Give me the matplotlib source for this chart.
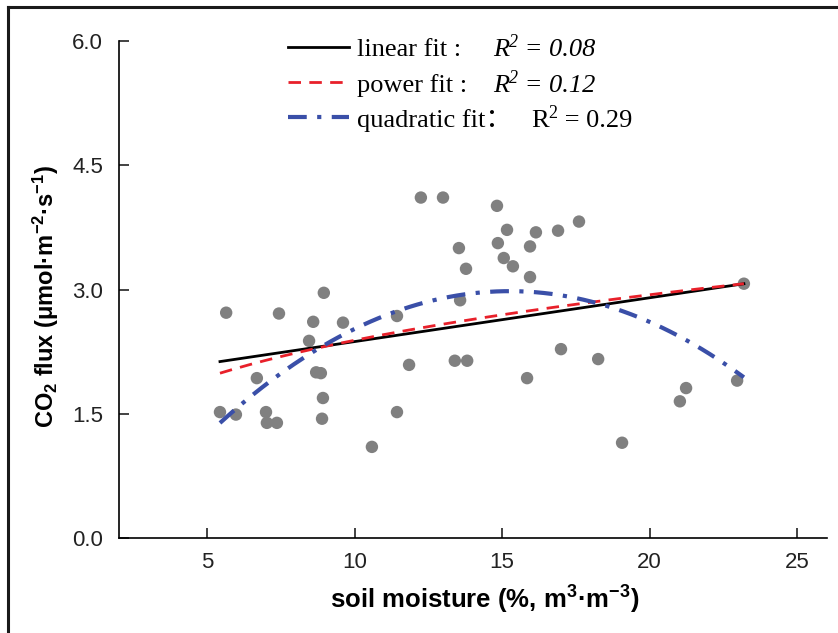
import numpy as np
import matplotlib
matplotlib.use("Agg")
import matplotlib.pyplot as plt
from matplotlib.font_manager import FontProperties
from matplotlib.lines import Line2D

# soil moisture (%) and CO2 flux
soil_moisture = [5.44, 5.65, 5.98, 6.69, 7.00, 7.03, 7.37, 7.44, 8.46, 8.60,
                 8.96, 9.61, 8.70, 8.86, 8.93, 8.90, 10.59, 11.44, 11.44, 11.85,
                 12.25, 13.00, 14.83, 13.54, 13.78, 15.17, 14.86, 15.06, 15.37, 16.15,
                 15.95, 15.95, 16.90, 17.61, 13.58, 13.40, 13.82, 15.85, 17.00, 18.26,
                 19.07, 23.20, 22.97, 21.24, 21.03]
co2_flux = [1.52, 2.72, 1.49, 1.93, 1.52, 1.39, 1.39, 2.71, 2.38, 2.61,
            2.96, 2.60, 2.00, 1.99, 1.69, 1.44, 1.10, 1.52, 2.68, 2.09,
            4.11, 4.11, 4.01, 3.50, 3.25, 3.72, 3.56, 3.38, 3.28, 3.69,
            3.52, 3.15, 3.71, 3.82, 2.87, 2.14, 2.14, 1.93, 2.28, 2.16,
            1.15, 3.07, 1.90, 1.81, 1.65]

# fitted models (coefficients estimated from the drawn curves)
lin_coef = (0.0529, 1.842)          # y = a*x + b
pow_coef = (1.199, 0.299)           # y = a*x^b
quad_coef = (-0.0165, 15.26, 2.98)  # y = a*(x-h)^2 + k

fit_names = ["linear fit :", "power fit :", "quadratic fit："]
r2_values = ["0.08", "0.12", "0.29"]
r2_italic = [True, True, False]

plt.rcParams["font.family"] = ["Liberation Sans", "DejaVu Sans"]
plt.rcParams["mathtext.fontset"] = "custom"
plt.rcParams["mathtext.rm"] = "Liberation Sans:bold"
plt.rcParams["mathtext.bf"] = "Liberation Sans:bold"
plt.rcParams["mathtext.it"] = "Liberation Sans:bold"

fig = plt.figure(figsize=(8.38, 6.33), dpi=100)
ax = fig.add_axes([118.5 / 838, 1 - 538 / 633, 708 / 838, 497 / 633])

x = np.array(soil_moisture)
y = np.array(co2_flux)
ax.scatter(x, y, s=80, color="#808080", edgecolors="none", zorder=2)

xx = np.linspace(x.min(), x.max(), 200)
ax.plot(xx, lin_coef[0] * xx + lin_coef[1], color="black", lw=2, zorder=3)
ax.plot(xx, pow_coef[0] * xx ** pow_coef[1], color="#e8202a", lw=2,
        linestyle=(0, (4.5, 3)), zorder=4)
ax.plot(xx, quad_coef[0] * (xx - quad_coef[1]) ** 2 + quad_coef[2], color="#3a4fa8",
        lw=3, linestyle=(0, (4.5, 2.5, 1, 2.5)), zorder=5)

ax.set_xlim(2, 26)
ax.set_ylim(0, 6)
ax.set_xticks([5, 10, 15, 20, 25])
ax.set_yticks([0, 1.5, 3.0, 4.5, 6.0])
ax.set_yticklabels(["0.0", "1.5", "3.0", "4.5", "6.0"])
for s in ["top", "right"]:
    ax.spines[s].set_visible(False)
for s in ["left", "bottom"]:
    ax.spines[s].set_linewidth(1.2)
ax.tick_params(axis="x", direction="in", length=7, width=1.2, pad=10, labelsize=16, colors="#222222")
ax.tick_params(axis="y", direction="in", length=7, width=1.2, pad=11, labelsize=16, colors="#222222")

fig.text(46 / 838, 1 - 296 / 633, r"CO$_2$ flux (μmol·m$^{-2}$·s$^{-1}$)", rotation=90,
         ha="center", va="center", fontsize=17, fontweight="bold")
fig.text(485 / 838, 1 - 600 / 633, r"soil moisture (%, m$^{3}$·m$^{-3}$)",
         ha="center", va="center", fontsize=18.5, fontweight="bold")

leg_font = FontProperties(family=["Liberation Serif", "Noto Sans CJK SC"], size=19)
handles = ax.get_lines()
leg = ax.legend(handles, fit_names, prop=leg_font, frameon=False, loc="upper left",
                bbox_to_anchor=(288 / 838, 1 - 38 / 633), bbox_transform=fig.transFigure,
                borderpad=0, borderaxespad=0, handlelength=2.3, handletextpad=0.3,
                labelspacing=0.44)

# R^2 annotations on the same baseline as each legend entry
fig.canvas.draw()
renderer = fig.canvas.get_renderer()
r2_x = [493, 493, 531]
for t, val, it, px in zip(leg.get_texts(), r2_values, r2_italic, r2_x):
    bx, by = t.get_transform().transform(t.get_position())
    style = "italic" if it else "normal"
    pieces = [("R", 19, 0), ("2", 13, 9), (" = " + val, 19, 0)]
    cx = px
    for s, size, rise in pieces:
        tt = fig.text(cx / 838, (by + rise) / fig.bbox.height, s, ha="left",
                      va=t.get_verticalalignment(), fontsize=size,
                      family="Liberation Serif", style=style)
        cx += tt.get_window_extent(renderer).width

# figure border (only top and left visible)
fig.add_artist(Line2D([8 / 838, 8 / 838], [0, 1 - 7 / 633], transform=fig.transFigure,
                      color="#1a1a1a", lw=2.2))
fig.add_artist(Line2D([8 / 838, 1], [1 - 7 / 633, 1 - 7 / 633], transform=fig.transFigure,
                      color="#1a1a1a", lw=2.2))

fig.savefig("out.png", dpi=100)
